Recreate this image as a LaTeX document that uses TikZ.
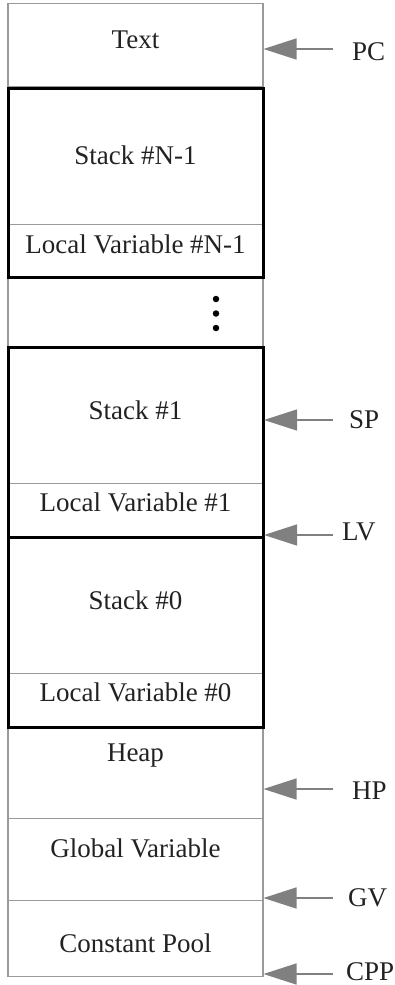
\documentclass[tikz,border=0pt]{standalone}
\usepackage{fontspec}
\setmainfont{Liberation Serif}
\usetikzlibrary{arrows.meta}
\definecolor{cellgray}{HTML}{9A9A9A}
\definecolor{ptrgray}{HTML}{808080}
\definecolor{ink}{HTML}{222222}
\begin{document}
\begin{tikzpicture}[x=1pt,y=-1pt,
  cell/.style={draw=cellgray, line width=1.4pt, minimum width=255pt, inner sep=0pt, anchor=north},
  frame/.style={draw=black, line width=3pt, minimum width=255pt, inner sep=0pt, anchor=north},
  lbl/.style={font=\fontsize{27}{31}\selectfont, text=ink, inner sep=0pt, text height=18pt, text depth=0pt},
  plbl/.style={lbl, anchor=west},
  ptr/.style={draw=ptrgray, line width=1.4pt, -{Triangle[length=33pt,width=21pt,fill=ptrgray]}},
  dotmark/.style={circle, fill=black, inner sep=0pt, minimum size=6.5pt}
]
\useasboundingbox (0,0) rectangle (395,985);
% gray cells
\node[cell, minimum height=83pt]  (ctext)  at (135.5,3)   {};
\node[cell, minimum height=137pt] (cstkN)  at (135.5,87)  {};
\node[cell, minimum height=52pt]  (clvN)   at (135.5,224) {};
\node[cell, minimum height=70pt]  (cdots)  at (135.5,276) {};
\node[cell, minimum height=137pt] (cstk1)  at (135.5,346) {};
\node[cell, minimum height=53pt]  (clv1)   at (135.5,483) {};
\node[cell, minimum height=137pt] (cstk0)  at (135.5,536) {};
\node[cell, minimum height=53pt]  (clv0)   at (135.5,673) {};
\node[cell, minimum height=92pt]  (cheap)  at (135.5,726) {};
\node[cell, minimum height=82pt]  (cglob)  at (135.5,818) {};
\node[cell, minimum height=76pt]  (cpool)  at (135.5,900) {};
% black frames
\node[frame, minimum height=189pt] (fN) at (135.5,87)  {};
\node[frame, minimum height=190pt] (f1) at (135.5,346) {};
\node[frame, minimum height=190pt] (f0) at (135.5,536) {};
% texts
\node[lbl] (ttext) at (135.5,39)  {Text};
\node[lbl] (tstkN) at (135.5,155) {Stack \#N-1};
\node[lbl] (tlvN)  at (135.5,244.5) {Local Variable \#N-1};
\node[lbl] (tstk1) at (135.5,410) {Stack \#1};
\node[lbl] (tlv1)  at (135.5,502) {Local Variable \#1};
\node[lbl] (tstk0) at (135.5,600) {Stack \#0};
\node[lbl] (tlv0)  at (135.5,692) {Local Variable \#0};
\node[lbl] (theap) at (135.5,752) {Heap};
\node[lbl] (tglob) at (135.5,848.5) {Global Variable};
\node[lbl] (tpool) at (135.5,943) {Constant Pool};
% dots
\node[dotmark] (d1) at (216,299) {};
\node[dotmark] (d2) at (216,313.5) {};
\node[dotmark] (d3) at (216,328) {};
% pointer labels
\node[plbl] (pc)  at (352,51)  {PC};
\node[plbl] (sp)  at (349,419) {SP};
\node[plbl] (lv)  at (342,531) {LV};
\node[plbl] (hp)  at (352,790) {HP};
\node[plbl] (gv)  at (348,897) {GV};
\node[plbl] (cpp) at (346,971) {CPP};
% pointer coordinates
\coordinate (pcS) at (333,49);   \coordinate (pcT) at (263.5,49);
\coordinate (spS) at (333,420);  \coordinate (spT) at (264,420);
\coordinate (lvS) at (333,535);  \coordinate (lvT) at (264,535);
\coordinate (hpS) at (333,789);  \coordinate (hpT) at (263.5,789);
\coordinate (gvS) at (333,898);  \coordinate (gvT) at (263.5,898);
\coordinate (cpS) at (333,974);  \coordinate (cpT) at (263.5,974);
\draw[ptr] (pcS) -- (pcT);
\draw[ptr] (spS) -- (spT);
\draw[ptr] (lvS) -- (lvT);
\draw[ptr] (hpS) -- (hpT);
\draw[ptr] (gvS) -- (gvT);
\draw[ptr] (cpS) -- (cpT);
\end{tikzpicture}
\end{document}
